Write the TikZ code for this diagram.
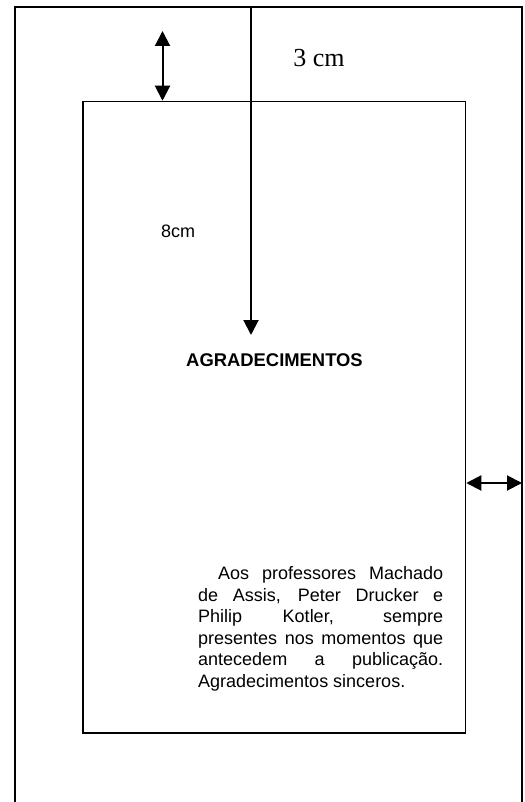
\documentclass[tikz,border=0pt]{standalone}
\usepackage{fontspec}
\setmainfont{Liberation Sans}
\newfontfamily\timesfont{Liberation Serif}
\usetikzlibrary{arrows.meta}
\tikzstyle{folha} = [draw, line width=2pt]
\tikzstyle{mancha} = [draw, rectangle, line width=1.5pt, inner sep=0pt, minimum width=382.5pt, minimum height=631.5pt]
\tikzstyle{cota} = [line width=2pt]
\tikzstyle{rotulo} = [inner sep=0pt, anchor=base, font=\fontsize{18}{21.5}\selectfont]
\tikzstyle{ponto} = [coordinate]

\begin{document}
\begin{tikzpicture}[x=1pt,y=-1pt,>={Triangle[length=15pt,width=15pt]}]
\useasboundingbox (0,0) rectangle (524,802);
\node [ponto, name=fse] at (15,7.5) {};
\node [ponto, name=fsd] at (522,7.5) {};
\node [ponto, name=fie] at (15,803) {};
\node [ponto, name=fid] at (522,803) {};
\node [mancha] (texto) at (274.25,417.25) {};
\node [ponto, name=topo] at (251,7.5) {};
\node [ponto, name=seta] at (251,335) {};
\node [ponto, name=sup] at (162.5,31) {};
\node [ponto, name=lado] at (522,483) {};

\node [rotulo, font=\timesfont\fontsize{26}{30}\selectfont] (tres) at (319,66.5) {3 cm};
\node [rotulo] (oito) at (178,237.3) {8cm};
\node [rotulo, font=\bfseries\fontsize{18.4}{21.5}\selectfont] (titulo) at (274.5,366.7) {AGRADECIMENTOS};
\node [rotulo, anchor=north west, text width=245pt, align=justify] (dedic) at (198,566.7)
  {\hspace*{20pt}Aos professores Machado\linebreak de Assis, Peter Drucker e\linebreak Philip Kotler, sempre\linebreak presentes nos momentos que\linebreak antecedem a publicação.\linebreak Agradecimentos sinceros.};

\draw [folha] (fie) -- (fse) -- (fsd) -- (fid);
\draw [cota, ->] (topo) -- (seta);
\draw [cota, <->] (sup) -- (sup |- texto.north);
\draw [cota, <->] (texto.east |- lado) -- (lado);
\end{tikzpicture}
\end{document}
